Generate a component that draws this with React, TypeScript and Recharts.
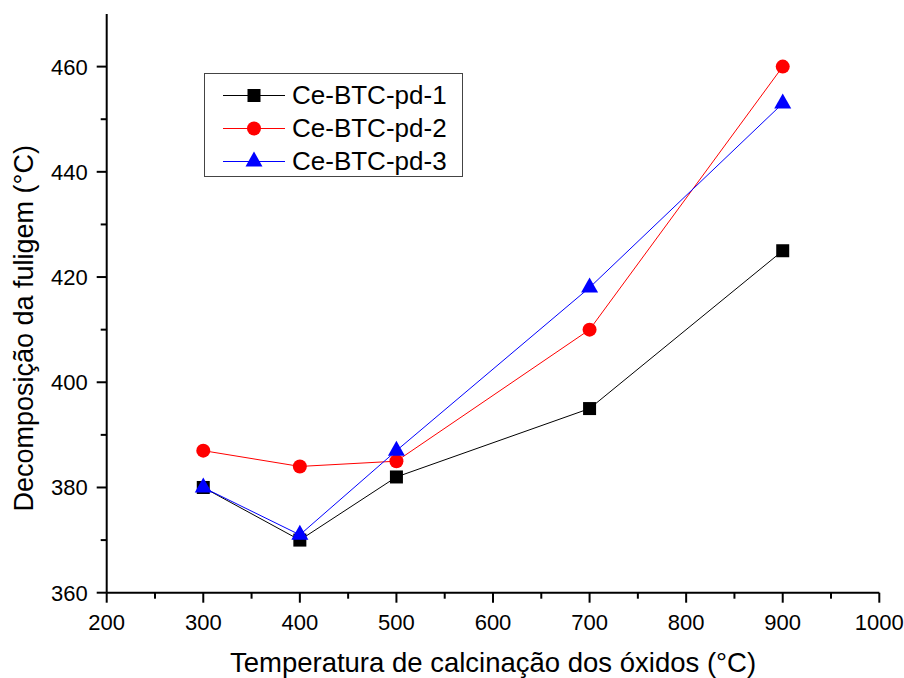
import { CartesianGrid, Label, Legend, Line, LineChart, XAxis, YAxis } from 'recharts'

// Calcination temperature of the oxides (°C)
const temperatures = [300, 400, 500, 700, 900]

// Soot decomposition temperature (°C) for each sample
const pd1 = [380, 370, 382, 395, 425]
const pd2 = [387, 384, 385, 410, 460]
const pd3 = [380, 371, 387, 418, 453]

const xTicks = [200, 250, 300, 350, 400, 450, 500, 550, 600, 650, 700, 750, 800, 850, 900, 950, 1000]
const yTicks = [360, 370, 380, 390, 400, 410, 420, 430, 440, 450, 460]

const series = [
  { key: 'pd1', name: 'Ce-BTC-pd-1', color: '#000000', shape: 'square' },
  { key: 'pd2', name: 'Ce-BTC-pd-2', color: '#ff0000', shape: 'circle' },
  { key: 'pd3', name: 'Ce-BTC-pd-3', color: '#0000ff', shape: 'triangle' },
]

const data = temperatures.map((t, i) => ({ temp: t, pd1: pd1[i], pd2: pd2[i], pd3: pd3[i] }))

const FONT = '"Liberation Sans", Arial, sans-serif'

function Marker({ cx, cy, shape, color }: { cx: number; cy: number; shape: string; color: string }) {
  if (shape === 'square') return <rect x={cx - 6.5} y={cy - 6.5} width={13} height={13} fill={color} />
  if (shape === 'circle') return <circle cx={cx} cy={cy} r={7} fill={color} />
  // triangle centred on its centroid
  return (
    <polygon
      points={`${cx},${cy - 10} ${cx - 8.5},${cy + 5} ${cx + 8.5},${cy + 5}`}
      fill={color}
    />
  )
}

// major ticks every 100 with labels, unlabelled minor ticks in between
function XTick({ x, y, payload }: any) {
  const major = payload.value % 100 === 0
  return (
    <g>
      <line x1={x} x2={x} y1={y} y2={y + (major ? 10 : 6)} stroke="#000" strokeWidth={2} />
      {major && (
        <text x={x} y={y + 37} textAnchor="middle" fontSize={22} fill="#000" fontFamily={FONT}>
          {payload.value}
        </text>
      )}
    </g>
  )
}

function YTick({ x, y, payload }: any) {
  const major = payload.value % 20 === 0
  return (
    <g>
      <line x1={x} x2={x - (major ? 10 : 6)} y1={y} y2={y} stroke="#000" strokeWidth={2} />
      {major && (
        <text x={x - 19} y={y + 8} textAnchor="end" fontSize={22} fill="#000" fontFamily={FONT}>
          {payload.value}
        </text>
      )}
    </g>
  )
}

function LegendBox() {
  return (
    <div
      style={{
        width: 259,
        height: 104,
        border: '1px solid #444',
        background: '#fff',
        fontFamily: FONT,
        fontSize: 26,
        paddingTop: 5,
        boxSizing: 'border-box',
      }}
    >
      {series.map((s) => (
        <div key={s.key} style={{ display: 'flex', alignItems: 'center', height: 33 }}>
          <svg width={87} height={33} style={{ flex: 'none' }}>
            <line x1={18} x2={80} y1={16.5} y2={16.5} stroke={s.color} strokeWidth={1} />
            <Marker cx={49} cy={16.5} shape={s.shape} color={s.color} />
          </svg>
          <span style={{ color: '#000', lineHeight: '33px' }}>{s.name}</span>
        </div>
      ))}
    </div>
  )
}

export default function App() {
  return (
    <div style={{ position: 'absolute', left: 0, top: 0, width: 904, height: 678, background: '#fff', fontFamily: FONT }}>
      <LineChart
        width={904}
        height={678}
        data={data}
        margin={{ top: 14, right: 24.7, left: 46.7, bottom: 35.3 }}
      >
        <CartesianGrid stroke="none" />
        <XAxis
          dataKey="temp"
          type="number"
          domain={[200, 1000]}
          ticks={xTicks}
          interval={0}
          height={50}
          tickSize={0}
          tickMargin={0}
          tickLine={false}
          tick={<XTick />}
          axisLine={{ stroke: '#000', strokeWidth: 2 }}
        >
          <Label
            content={({ viewBox }: any) => (
              <text
                x={viewBox.x + viewBox.width / 2}
                y={viewBox.y + 79}
                textAnchor="middle"
                fontSize={27.5}
                fill="#000"
                fontFamily={FONT}
              >
                Temperatura de calcinação dos óxidos (°C)
              </text>
            )}
          />
        </XAxis>
        <YAxis
          type="number"
          domain={[360, 470]}
          ticks={yTicks}
          interval={0}
          width={60}
          tickSize={0}
          tickMargin={0}
          tickLine={false}
          tick={<YTick />}
          axisLine={{ stroke: '#000', strokeWidth: 2 }}
        >
          <Label
            content={({ viewBox }: any) => {
              const cx = 33
              const cy = viewBox.y + viewBox.height / 2 + 25
              return (
                <text
                  x={cx}
                  y={cy}
                  transform={`rotate(-90 ${cx} ${cy})`}
                  textAnchor="middle"
                  fontSize={27}
                  fill="#000"
                  fontFamily={FONT}
                >
                  Decomposição da fuligem (°C)
                </text>
              )
            }}
          />
        </YAxis>
        <Legend
          layout="vertical"
          align="center"
          verticalAlign="middle"
          content={<LegendBox />}
          wrapperStyle={{ left: 204, top: 73, width: 259, height: 104 }}
        />
        {series.map((s) => (
          <Line
            key={s.key}
            dataKey={s.key}
            name={s.name}
            type="linear"
            stroke={s.color}
            strokeWidth={1}
            isAnimationActive={false}
            dot={(p: any) => <Marker key={`${s.key}-${p.index}`} cx={p.cx} cy={p.cy} shape={s.shape} color={s.color} />}
            activeDot={false}
          />
        ))}
      </LineChart>
    </div>
  )
}
